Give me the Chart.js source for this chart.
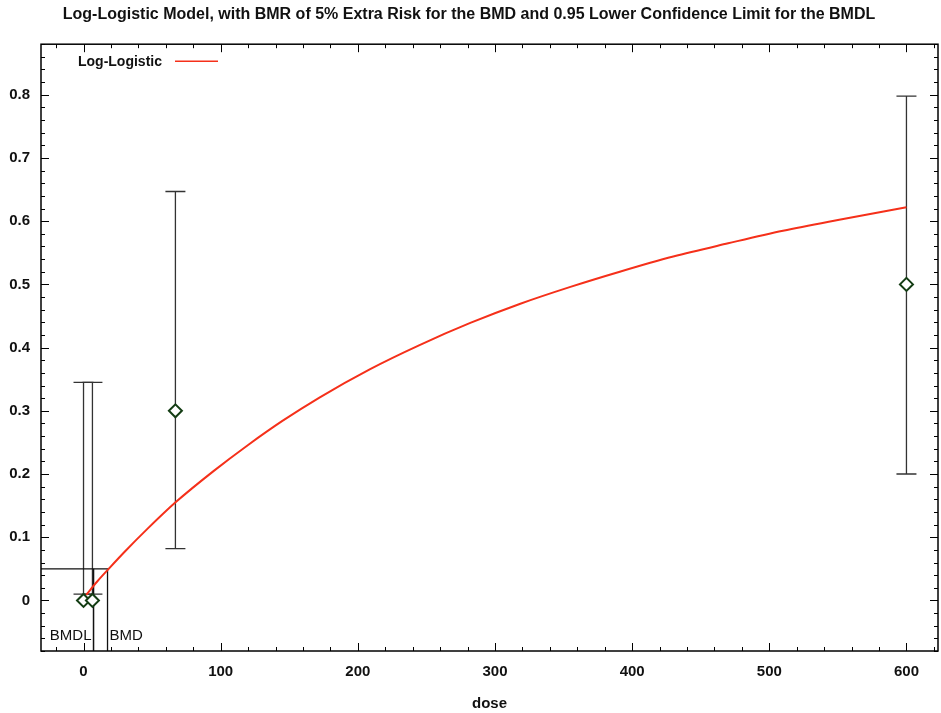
<!DOCTYPE html>
<html>
<head>
<meta charset="utf-8">
<script src="https://cdn.jsdelivr.net/npm/chart.js@4.4.1/dist/chart.umd.min.js"></script>
<style>
  html, body { margin: 0; padding: 0; background: #fff; }
  #wrap { width: 941px; height: 713px; }
</style>
</head>
<body>
<div id="wrap"><canvas id="bmdChart" width="941" height="713"></canvas></div>
<script>
// observed data (dose groups) with confidence bars
const doses = [0, 6.5, 67, 600];
const means = [0, 0, 0.3, 0.5];
const lowerCI = [0.01, 0.01, 0.082, 0.2];
const upperCI = [0.345, 0.345, 0.647, 0.798];

// fitted log-logistic curve
const curveDose = [2, 10, 18.8, 30, 46, 67.5, 95, 120, 145, 172, 209, 245, 282, 318, 355, 391, 430, 470, 510, 550, 600];
const curveRisk = [0.009, 0.03, 0.051, 0.077, 0.112, 0.156, 0.205, 0.246, 0.284, 0.321, 0.366, 0.404, 0.439, 0.469, 0.496, 0.52, 0.544, 0.565, 0.585, 0.602, 0.622];

// benchmark values
const bmr = 0.05;
const bmd = 17.5;
const bmdl = 7.3;

const xMin = -31, xMax = 623;
const yMin = -0.08, yMax = 0.88;
const xTicksMajor = 100, xTicksMinor = 20;
const yTicksMajor = 0.1, yTicksMinor = 0.02;

const RED = '#f5301a';
const FONT = "'Liberation Sans', Arial, sans-serif";

const curvePoints = curveDose.map((d, i) => ({x: d, y: curveRisk[i]}));
const obsPoints = doses.map((d, i) => ({x: d, y: means[i]}));

// error bars drawn behind the datasets
const errorBars = {
    id: 'errorBars',
    beforeDatasetsDraw(chart) {
        const {ctx, scales: {x, y}} = chart;
        ctx.save();
        ctx.strokeStyle = '#333';
        ctx.lineWidth = 1.3;
        for (let i = 0; i < doses.length; i++) {
            const px = x.getPixelForValue(doses[i]);
            const lo = y.getPixelForValue(lowerCI[i]);
            const hi = y.getPixelForValue(upperCI[i]);
            ctx.beginPath();
            ctx.moveTo(px, lo); ctx.lineTo(px, hi);
            ctx.moveTo(px - 10, lo); ctx.lineTo(px + 10, lo);
            ctx.moveTo(px - 10, hi); ctx.lineTo(px + 10, hi);
            ctx.stroke();
        }
        ctx.restore();
    }
};

// gnuplot style frame with inward ticks on all sides, legend and BMD labels
const frameTicks = {
    id: 'frameTicks',
    afterDraw(chart) {
        const {ctx, chartArea: a, scales: {x, y}} = chart;
        ctx.save();
        ctx.strokeStyle = '#000';
        ctx.lineWidth = 1.5;
        ctx.strokeRect(a.left, a.top, a.right - a.left, a.bottom - a.top);

        ctx.lineWidth = 1;
        ctx.beginPath();
        for (let v = Math.ceil(xMin / xTicksMinor) * xTicksMinor; v <= xMax; v += xTicksMinor) {
            const px = Math.round(x.getPixelForValue(v)) + 0.5;
            const len = (v % xTicksMajor === 0) ? 8 : 4;
            ctx.moveTo(px, a.bottom); ctx.lineTo(px, a.bottom - len);
            ctx.moveTo(px, a.top); ctx.lineTo(px, a.top + len);
        }
        for (let i = Math.ceil(yMin / yTicksMinor); i * yTicksMinor <= yMax; i++) {
            const py = Math.round(y.getPixelForValue(i * yTicksMinor)) + 0.5;
            const len = (i % 5 === 0) ? 8 : 4;
            ctx.moveTo(a.left, py); ctx.lineTo(a.left + len, py);
            ctx.moveTo(a.right, py); ctx.lineTo(a.right - len, py);
        }
        ctx.stroke();

        // legend
        ctx.fillStyle = '#111';
        ctx.font = 'bold 14px ' + FONT;
        ctx.textBaseline = 'middle';
        ctx.textAlign = 'left';
        ctx.fillText('Log-Logistic', a.left + 37, a.top + 18);
        ctx.strokeStyle = RED;
        ctx.lineWidth = 1.5;
        ctx.beginPath();
        ctx.moveTo(a.left + 134, a.top + 17);
        ctx.lineTo(a.left + 177, a.top + 17);
        ctx.stroke();

        // BMDL / BMD labels
        ctx.font = '15px ' + FONT;
        ctx.textAlign = 'right';
        ctx.fillText('BMDL', x.getPixelForValue(bmdl) - 2, a.bottom - 15);
        ctx.textAlign = 'left';
        ctx.fillText('BMD', x.getPixelForValue(bmd) + 2, a.bottom - 15);
        ctx.restore();
    }
};

const ctx = document.getElementById('bmdChart').getContext('2d');
const chart = new Chart(ctx, {
    type: 'scatter',
    data: {
        datasets: [
            {
                label: 'Log-Logistic',
                data: curvePoints,
                showLine: true,
                borderColor: RED,
                borderWidth: 2,
                pointRadius: 0,
                cubicInterpolationMode: 'monotone',
                order: 2
            },
            {
                label: 'BMD',
                data: [{x: xMin, y: bmr}, {x: bmd, y: bmr}, {x: bmd, y: yMin}],
                showLine: true,
                borderColor: '#111',
                borderWidth: 1.3,
                pointRadius: 0,
                order: 3
            },
            {
                label: 'BMDL',
                data: [{x: bmdl, y: yMin}, {x: bmdl, y: bmr}],
                showLine: true,
                borderColor: '#111',
                borderWidth: 1.5,
                pointRadius: 0,
                order: 3
            },
            {
                label: 'Data',
                data: obsPoints,
                pointStyle: 'rectRot',
                pointRadius: 6.5,
                pointBorderWidth: 2,
                pointBorderColor: '#143d14',
                pointBackgroundColor: '#fff',
                order: 1
            }
        ]
    },
    options: {
        responsive: false,
        animation: false,
        layout: { autoPadding: false, padding: { left: 0, right: 3, top: 0, bottom: 0 } },
        scales: {
            x: {
                type: 'linear',
                min: xMin,
                max: xMax,
                grid: { display: false, drawTicks: false },
                border: { display: false },
                ticks: {
                    stepSize: xTicksMajor,
                    includeBounds: false,
                    padding: 12,
                    color: '#111',
                    font: { family: FONT, size: 15, weight: 'bold' },
                    maxRotation: 0
                },
                title: {
                    display: true,
                    text: 'dose',
                    color: '#111',
                    font: { family: FONT, size: 15, weight: 'bold' },
                    padding: { top: 0, bottom: 0 }
                },
                afterFit: scale => {
                    scale.height = 62;
                    scale.paddingLeft = 0;
                    scale.paddingRight = 0;
                }
            },
            y: {
                min: yMin,
                max: yMax,
                grid: { display: false, drawTicks: false },
                border: { display: false },
                ticks: {
                    stepSize: yTicksMajor,
                    includeBounds: false,
                    padding: 11,
                    color: '#111',
                    font: { family: FONT, size: 15, weight: 'bold' },
                    callback: v => Math.abs(v) < 1e-9 ? '0' : v.toFixed(1)
                },
                afterFit: scale => {
                    scale.width = 41;
                    scale.paddingTop = 0;
                    scale.paddingBottom = 0;
                }
            }
        },
        plugins: {
            legend: { display: false },
            tooltip: { enabled: false },
            title: {
                display: true,
                text: 'Log-Logistic Model, with BMR of 5% Extra Risk for the BMD and 0.95 Lower Confidence Limit for the BMDL',
                color: '#111',
                font: { family: FONT, size: 16, weight: 'bold' },
                padding: { top: 5, bottom: 20 }
            }
        }
    },
    plugins: [errorBars, frameTicks]
});
</script>
</body>
</html>
